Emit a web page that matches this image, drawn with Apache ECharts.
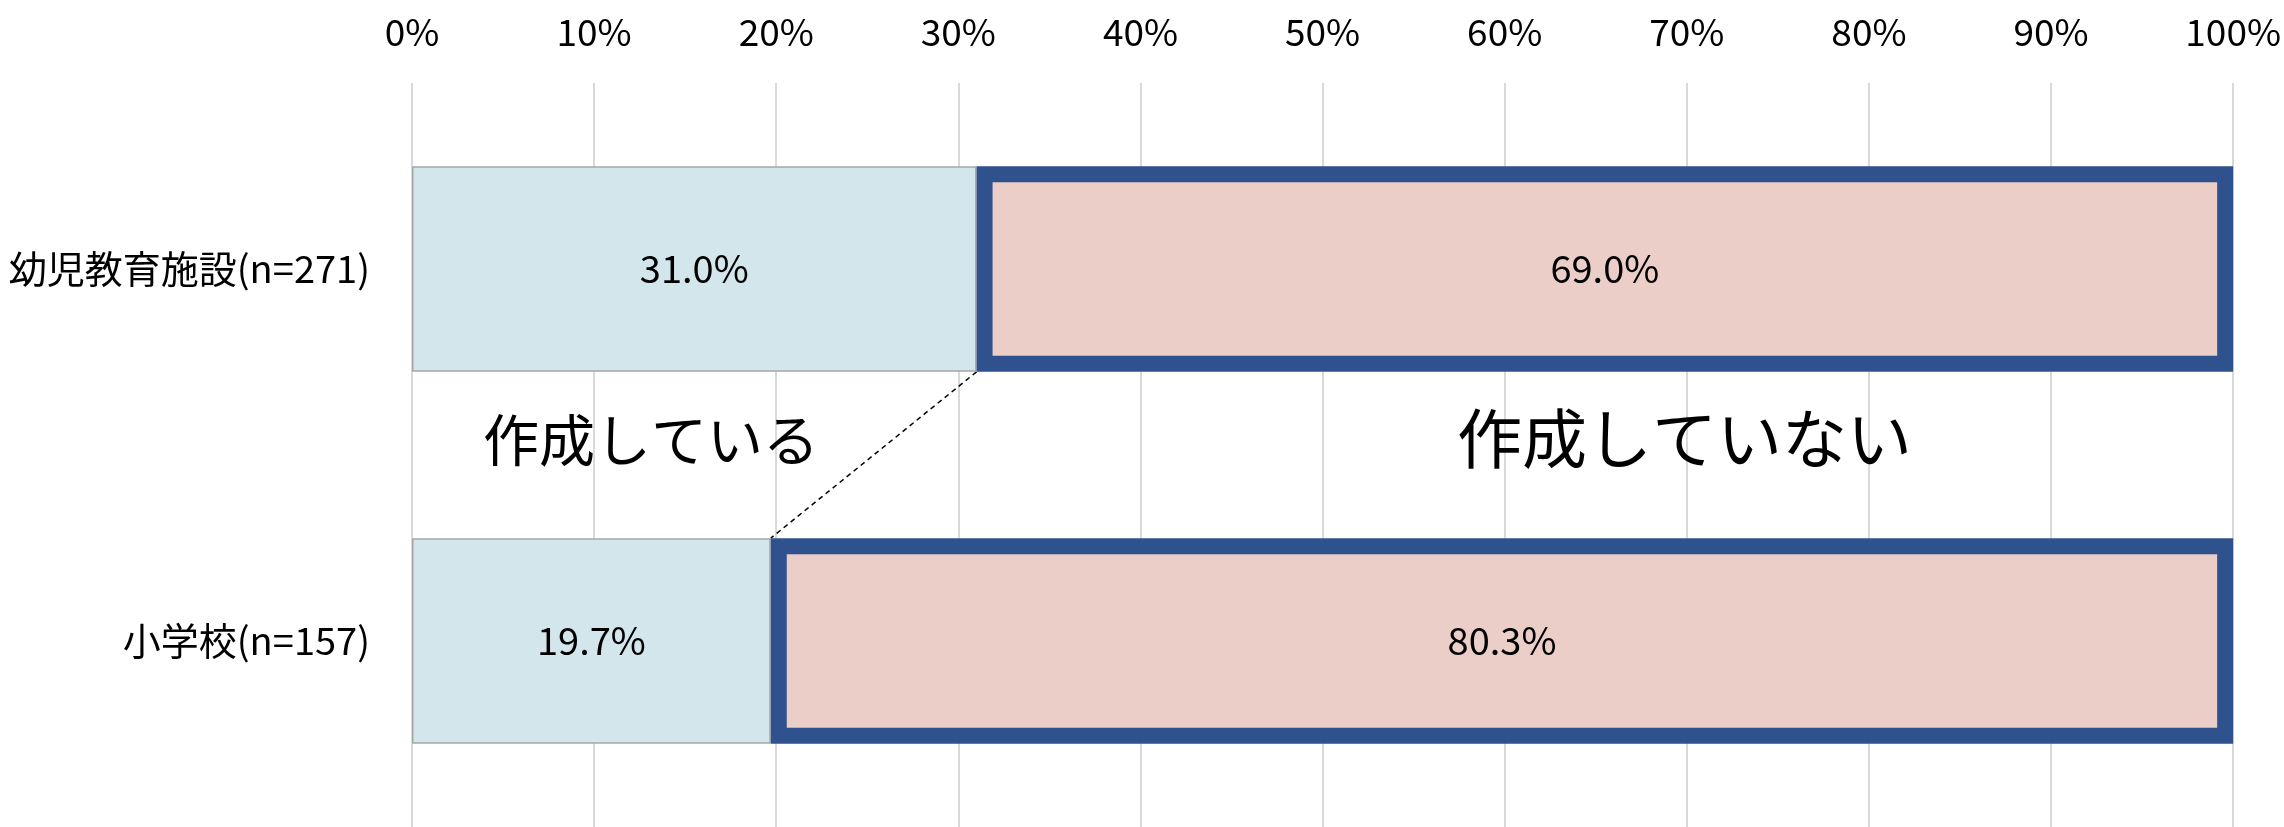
<!DOCTYPE html>
<html>
<head>
<meta charset="utf-8">
<script src="https://cdn.jsdelivr.net/npm/echarts@6/dist/echarts.min.js"></script>
<style>
html,body{margin:0;padding:0;background:#fff;}
#chart{width:2284px;height:827px;}
</style>
</head>
<body>
<div id="chart"></div>
<script>
// ---- data ----
const categories = ['幼児教育施設(n=271)', '小学校(n=157)'];
const createdValues = [31.0, 19.7];       // 作成している
const notCreatedValues = [69.0, 80.3];    // 作成していない
const xTicks = [0, 10, 20, 30, 40, 50, 60, 70, 80, 90, 100];
const annotationLeft = '作成している';
const annotationRight = '作成していない';

const FONT = '"Noto Sans CJK JP", "Noto Sans", sans-serif';
const BAR_RATIO = 0.553;

const chart = echarts.init(document.getElementById('chart'), null, {renderer: 'canvas'});

// connector line between the boundaries of the two bars (series line)
const connectorData = [[createdValues[0], 0, createdValues[1], 1]];

const option = {
  backgroundColor: '#ffffff',
  animation: false,
  grid: { left: 412, right: 48, top: 83, height: 748, containLabel: false },
  xAxis: {
    type: 'value',
    position: 'top',
    min: xTicks[0],
    max: xTicks[xTicks.length - 1],
    interval: xTicks[1] - xTicks[0],
    axisLine: { show: false },
    axisTick: { show: false },
    axisLabel: {
      formatter: '{value}%',
      fontFamily: FONT,
      fontSize: 37,
      color: '#000',
      margin: 33
    },
    splitLine: { show: true, lineStyle: { color: '#d9d9d9', width: 2 } }
  },
  yAxis: {
    type: 'category',
    inverse: true,
    data: categories,
    axisLine: { show: false },
    axisTick: { show: false },
    axisLabel: {
      fontFamily: FONT,
      fontSize: 38,
      color: '#000',
      margin: 42
    }
  },
  series: [
    {
      name: '作成している',
      type: 'bar',
      stack: 'total',
      barWidth: (BAR_RATIO * 100) + '%',
      data: createdValues,
      itemStyle: { color: '#d2e6eb', borderColor: '#a6a6a6', borderWidth: 1.5 },
      label: {
        show: true,
        position: 'inside',
        formatter: p => p.value.toFixed(1) + '%',
        fontFamily: FONT,
        fontSize: 38,
        color: '#000'
      },
      z: 3
    },
    {
      name: '作成していない',
      type: 'bar',
      stack: 'total',
      barWidth: (BAR_RATIO * 100) + '%',
      data: notCreatedValues,
      itemStyle: { color: '#ebcec7', borderColor: '#2f528f', borderWidth: 16 },
      label: {
        show: true,
        position: 'inside',
        formatter: p => p.value.toFixed(1) + '%',
        fontFamily: FONT,
        fontSize: 38,
        color: '#000'
      },
      z: 4
    },
    {
      type: 'custom',
      name: 'connector',
      data: connectorData,
      encode: { x: [0, 2], y: [1, 3] },
      z: 2,
      silent: true,
      renderItem: function (params, api) {
        const p1 = api.coord([api.value(0), api.value(1)]);
        const p2 = api.coord([api.value(2), api.value(3)]);
        const band = api.size([0, 1])[1];
        const half = band * BAR_RATIO / 2;
        return {
          type: 'line',
          shape: { x1: p1[0], y1: p1[1] + half, x2: p2[0], y2: p2[1] - half },
          style: { stroke: '#000', lineWidth: 1.5, lineDash: [5, 4] }
        };
      }
    }
  ],
  graphic: [
    {
      type: 'text',
      left: 483,
      top: 454 - 42,
      style: { text: annotationLeft, font: '56px ' + FONT, fill: '#000' },
      z: 10
    },
    {
      type: 'text',
      left: 1457,
      top: 454 - 48,
      style: { text: annotationRight, font: '65px ' + FONT, fill: '#000' },
      z: 10
    }
  ]
};
chart.setOption(option);
</script>
</body>
</html>
